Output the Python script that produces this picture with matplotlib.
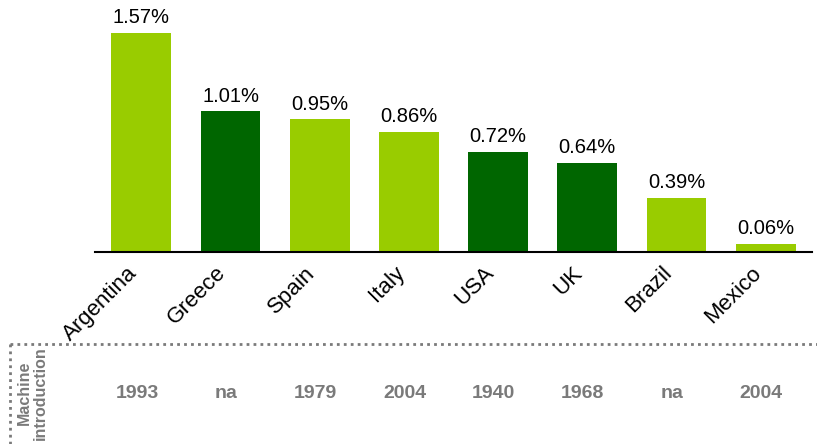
import matplotlib
matplotlib.use("Agg")
from matplotlib import pyplot as plt
from matplotlib.lines import Line2D
from matplotlib.transforms import ScaledTranslation

plt.rcParams['font.family'] = ['Liberation Sans', 'DejaVu Sans']

countries = ['Argentina', 'Greece', 'Spain', 'Italy', 'USA', 'UK', 'Brazil', 'Mexico']
shares = [1.57, 1.01, 0.95, 0.86, 0.72, 0.64, 0.39, 0.06]
dark = [False, True, False, False, True, True, False, False]
intro_years = ['1993', 'na', '1979', '2004', '1940', '1968', 'na', '2004']

LIGHT = '#99cc00'
DARK = '#006600'
GRAY = '#7a7a7a'

W, H = 817, 444
fig = plt.figure(figsize=(W / 100, H / 100), dpi=100)
# axes spans x 95..812 px, baseline at y=252 px from top
ax = fig.add_axes([95 / W, (H - 252) / H, (812 - 95) / W, 252 / H])

xs = list(range(len(countries)))
colors = [DARK if d else LIGHT for d in dark]
ax.bar(xs, shares, width=0.67, color=colors, zorder=2)

for x, v in zip(xs, shares):
    ax.annotate(f'{v:.2f}%', (x, v), xytext=(0, 4), textcoords='offset points',
                ha='center', va='bottom', fontsize=14.5, color='black')

ax.set_xlim(-0.52, 7.52)
ax.set_ylim(0, 1.806)
ax.set_yticks([])
ax.set_xticks(xs)
ax.set_xticklabels(countries, rotation=45, ha='right', rotation_mode='anchor',
                   fontsize=16)
ax.tick_params(axis='x', length=0, pad=9)
shift = ScaledTranslation(-0.15, 0.02, fig.dpi_scale_trans)
for lbl in ax.get_xticklabels():
    lbl.set_transform(lbl.get_transform() + shift)
for s in ['top', 'right', 'left']:
    ax.spines[s].set_visible(False)
ax.spines['bottom'].set_linewidth(1.5)
ax.spines['bottom'].set_color('black')
ax.spines['bottom'].set_zorder(3)

# bottom "Machine introduction" strip
y_line = 1 - 344 / H
fig.add_artist(Line2D([10 / W, 1.0], [y_line, y_line], transform=fig.transFigure,
                      color=GRAY, lw=2, linestyle=(0, (1, 1.5))))
fig.add_artist(Line2D([10 / W, 10 / W], [y_line, 0], transform=fig.transFigure,
                      color=GRAY, lw=2, linestyle=(0, (1, 1.5))))
fig.text(32 / W, 1 - 393 / H, 'Machine\nintroduction', rotation=90, ha='center',
         va='center', fontsize=11.5, fontweight='bold', color=GRAY, linespacing=1.1)

trans = ax.get_xaxis_transform()
for x, yr in zip(xs, intro_years):
    ax.text(x - 0.05, (252 - 393) / 252, yr, transform=trans, ha='center',
            va='center', fontsize=14, fontweight='bold', color=GRAY, clip_on=False)

fig.savefig('out.png', dpi=100)
